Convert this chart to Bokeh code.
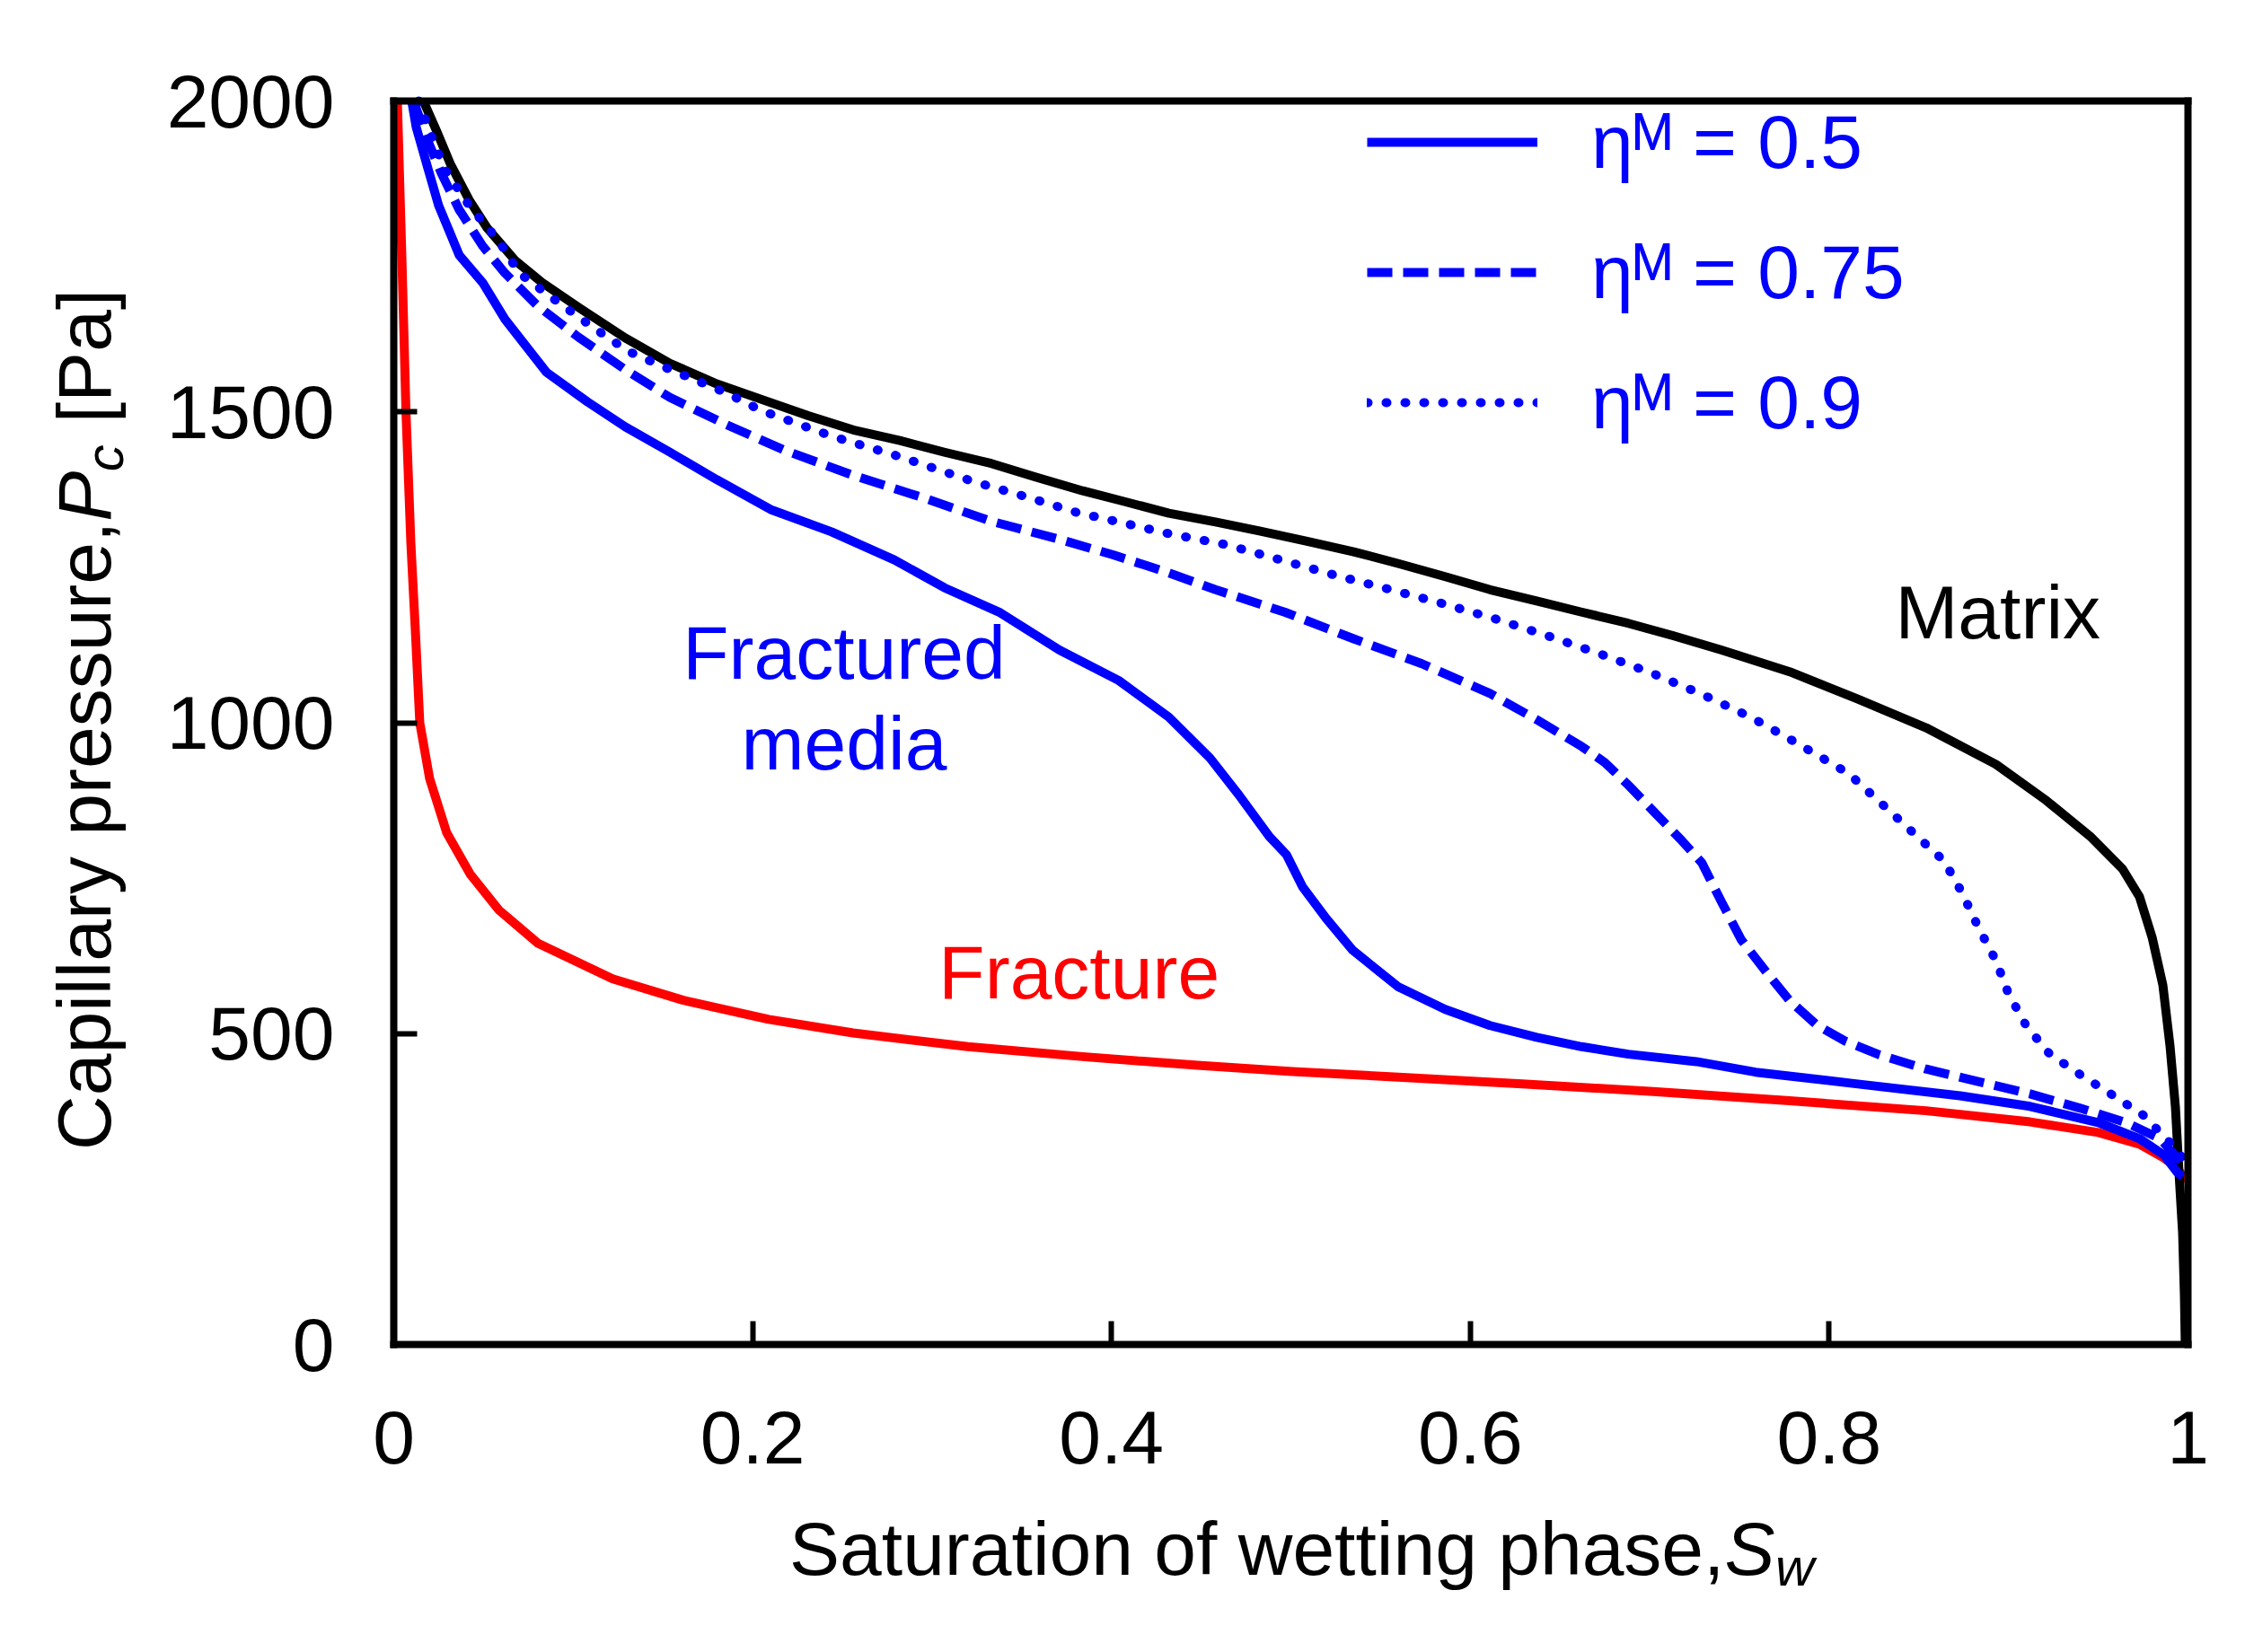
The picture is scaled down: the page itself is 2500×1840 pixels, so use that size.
import numpy as np
from bokeh.plotting import figure
from bokeh.models import (Range1d, FixedTicker, CustomJSTickFormatter, Label,
                          Legend, LegendItem, LinearAxis)
from bokeh.embed import file_html
from bokeh.resources import INLINE

# ---------------- data ----------------
x_ticks = [0, 0.2, 0.4, 0.6, 0.8, 1]
y_ticks = [0, 500, 1000, 1500, 2000]

matrix_sw = [0.0165, 0.024, 0.0315, 0.042, 0.052, 0.0675, 0.0826, 0.103, 0.129, 0.154,
             0.180, 0.205, 0.231, 0.256, 0.282, 0.307, 0.333, 0.358, 0.384, 0.407,
             0.432, 0.458, 0.483, 0.509, 0.535, 0.560, 0.586, 0.611, 0.637, 0.662,
             0.688, 0.713, 0.740, 0.778, 0.816, 0.854, 0.893, 0.921, 0.946, 0.9635,
             0.973, 0.980, 0.986, 0.990, 0.993, 0.995, 0.997, 0.998, 0.9985]
matrix_pc = [2000, 1951, 1899, 1841, 1796, 1744, 1708, 1668, 1619, 1578,
             1545, 1520, 1494, 1471, 1454, 1435, 1417, 1395, 1373, 1356,
             1337, 1323, 1308, 1292, 1275, 1256, 1235, 1214, 1196, 1178,
             1160, 1140, 1117, 1082, 1038, 992, 933, 875, 816, 765,
             720, 655, 578, 480, 382, 276, 180, 80, 0]

eta09_sw = [0.014, 0.020, 0.028, 0.042, 0.0585, 0.070, 0.0875, 0.1105, 0.131, 0.154,
            0.185, 0.205, 0.244, 0.282, 0.323, 0.353, 0.381, 0.407, 0.432, 0.463,
            0.493, 0.525, 0.553, 0.583, 0.614, 0.642, 0.673, 0.701, 0.729, 0.757,
            0.784, 0.811, 0.833, 0.851, 0.864, 0.874, 0.883, 0.893, 0.900, 0.910,
            0.923, 0.940, 0.9575, 0.975, 0.990, 0.997]
eta09_pc = [2000, 1951, 1892, 1832, 1775, 1723, 1685, 1637, 1597, 1568,
            1531, 1502, 1461, 1428, 1388, 1363, 1338, 1321, 1304, 1287,
            1263, 1237, 1216, 1193, 1167, 1141, 1110, 1080, 1046, 1008,
            964, 918, 860, 812, 778, 727, 672, 617, 564, 512,
            467, 434, 402, 369, 325, 300]

eta075_sw = [0.011, 0.019, 0.0265, 0.0365, 0.0495, 0.062, 0.080, 0.103, 0.129, 0.154,
             0.185, 0.218, 0.256, 0.295, 0.333, 0.371, 0.401, 0.430, 0.458, 0.4965,
             0.535, 0.573, 0.611, 0.637, 0.662, 0.675, 0.688, 0.703, 0.718, 0.729,
             0.740, 0.751, 0.765, 0.778, 0.793, 0.809, 0.828, 0.854, 0.883, 0.912,
             0.940, 0.9655, 0.9845, 0.994, 0.997]
eta075_pc = [2000, 1936, 1884, 1825, 1767, 1723, 1671, 1620, 1568, 1523,
             1480, 1438, 1398, 1362, 1324, 1295, 1270, 1243, 1214, 1178,
             1135, 1095, 1047, 1005, 962, 936, 900, 855, 810, 775,
             712, 651, 599, 553, 514, 488, 466, 443, 423, 403,
             380, 357, 331, 300, 293]

eta05_sw = [0.010, 0.0125, 0.019, 0.025, 0.0365, 0.0495, 0.062, 0.085, 0.108, 0.129,
            0.154, 0.180, 0.210, 0.244, 0.279, 0.307, 0.338, 0.371, 0.404, 0.432,
            0.455, 0.471, 0.488, 0.4975, 0.5065, 0.5195, 0.5345, 0.560, 0.586, 0.611,
            0.637, 0.662, 0.688, 0.726, 0.759, 0.816, 0.873, 0.912, 0.950, 0.973,
            0.9865, 0.994, 0.997]
eta05_pc = [2000, 1958, 1892, 1832, 1752, 1708, 1649, 1564, 1516, 1476,
            1435, 1391, 1343, 1307, 1262, 1217, 1177, 1117, 1068, 1009,
            943, 884, 817, 788, 736, 686, 634, 575, 539, 513,
            494, 479, 467, 455, 438, 419, 400, 383, 357, 331,
            305, 277, 270]

fracture_sw = [0.002, 0.0045, 0.0068, 0.0095, 0.012, 0.0145, 0.020, 0.0295, 0.0425,
               0.0585, 0.0805, 0.122, 0.161, 0.209, 0.256, 0.320, 0.384, 0.448,
               0.501, 0.560, 0.629, 0.702, 0.778, 0.854, 0.912, 0.950, 0.973,
               0.9865, 0.994, 0.999]
fracture_pc = [2000, 1750, 1500, 1290, 1150, 1000, 910, 823, 757,
               699, 645, 588, 554, 523, 501, 479, 463, 449,
               439, 430, 419, 407, 392, 376, 358, 341, 322,
               300, 284, 262]

legend_labels = ["\u03b7\u1d39 = 0.5", "\u03b7\u1d39 = 0.75", "\u03b7\u1d39 = 0.9"]

# ---------------- layout constants (pixels) ----------------
W, H = 2480, 1820
BOX_L, BOX_T, BOX_W, BOX_H = 438, 112, 1998, 1385   # plot box inside the canvas
PX_PER_X = BOX_W / 1.0
PX_PER_Y = BOX_H / 2000.0

FONT = "Liberation Sans"
BLUE = "#0000FF"
RED = "#FF0000"

x0 = -BOX_L / PX_PER_X
x1 = (W - BOX_L) / PX_PER_X
y1 = 2000 + BOX_T / PX_PER_Y
y0 = -(H - BOX_T - BOX_H) / PX_PER_Y

p = figure(width=W, height=H, output_backend="svg", toolbar_location=None,
           x_range=Range1d(x0, x1), y_range=Range1d(y0, y1),
           min_border_left=0, min_border_right=0, min_border_top=0, min_border_bottom=0)
p.grid.visible = False
p.background_fill_color = "white"
p.border_fill_color = "white"
p.outline_line_color = None

fmt = CustomJSTickFormatter(code="return String(Math.round(tick*10)/10);")

xa = p.xaxis[0]
ya = p.yaxis[0]
xa.fixed_location = 0
xa.bounds = (0, 1)
ya.fixed_location = 0
ya.bounds = (0, 2000)
xa.ticker = FixedTicker(ticks=x_ticks)
ya.ticker = FixedTicker(ticks=y_ticks)
for ax in (xa, ya):
    ax.axis_line_width = 8
    ax.axis_line_color = "black"
    ax.axis_line_cap = "square"
    ax.major_tick_in = 26
    ax.major_tick_out = 0
    ax.major_tick_line_width = 6
    ax.major_tick_line_color = "black"
    ax.minor_tick_line_color = None
    ax.major_label_text_font = FONT
    ax.major_label_text_font_size = "84px"
    ax.major_label_text_color = "black"
    ax.formatter = fmt
xa.major_label_standoff = 74
ya.major_label_standoff = 66

top = LinearAxis(fixed_location=2000, bounds=(0, 1), ticker=FixedTicker(ticks=[]),
                 axis_line_width=8, axis_line_color="black", axis_line_cap="square",
                 major_tick_line_color=None, minor_tick_line_color=None,
                 major_label_text_font_size="0px")
right = LinearAxis(fixed_location=1, bounds=(0, 2000), ticker=FixedTicker(ticks=[]),
                   axis_line_width=8, axis_line_color="black", axis_line_cap="square",
                   major_tick_line_color=None, minor_tick_line_color=None,
                   major_label_text_font_size="0px")
p.add_layout(top, "above")
p.add_layout(right, "right")

LW = 10
r_f = p.line(fracture_sw, fracture_pc, line_color=RED, line_width=LW, line_join="round")
r_m = p.line(matrix_sw, matrix_pc, line_color="black", line_width=LW, line_join="round")
r1 = p.line(eta05_sw, eta05_pc, line_color=BLUE, line_width=LW, line_join="round")
r2 = p.line(eta075_sw, eta075_pc, line_color=BLUE, line_width=LW, line_join="round",
            line_dash="28 12")
r3 = p.line(eta09_sw, eta09_pc, line_color=BLUE, line_width=LW, line_join="round",
            line_dash="1 20", line_cap="round")

legend = Legend(items=[LegendItem(label=legend_labels[0], renderers=[r1]),
                       LegendItem(label=legend_labels[1], renderers=[r2]),
                       LegendItem(label=legend_labels[2], renderers=[r3])],
                location=(1084 + BOX_L, 1322))
legend.label_text_font = FONT
legend.label_text_font_size = "84px"
legend.label_text_color = BLUE
legend.glyph_width = 190
legend.glyph_height = 100
legend.label_height = 100
legend.spacing = 45
legend.padding = 0
legend.margin = 0
legend.label_standoff = 60
legend.border_line_color = None
legend.background_fill_alpha = 0
p.add_layout(legend)

def lab(x, y, text, color="black", size=84, align="center", style="normal", angle=0.0):
    # small baseline correction (pixels) converted to data units
    shift = 25 * size / 84.0
    if angle == 0.0:
        y = y + shift / PX_PER_Y
    else:
        x = x - shift / PX_PER_X
    p.add_layout(Label(x=x, y=y, text=text, text_color=color, text_font=FONT,
                       text_font_size=f"{size}px", text_align=align,
                       text_baseline="alphabetic", text_font_style=style,
                       angle=angle))

# in-plot annotations
lab(0.894, 1141, "Matrix")
lab(0.251, 1076, "Fractured", color=BLUE)
lab(0.251, 931, "media", color=BLUE)
lab(0.382, 563, "Fracture", color=RED)

# x-axis title
lab(0.7417, -364, "Saturation of wetting phase,", align="right")
lab(0.7417, -364, "S", align="left", style="italic")
lab(0.770, -384, "w", align="left", style="italic", size=60)

# y-axis title (rotated)
A = np.pi / 2
lab(-0.160, 1324, "Capillary pressure,", align="right", angle=A)
lab(-0.160, 1324, "P", align="left", style="italic", angle=A)
lab(-0.152, 1404, "c", align="left", style="italic", size=60, angle=A)
lab(-0.160, 1482, "[Pa]", align="left", angle=A)

open("out.html", "w").write(file_html(p, INLINE))
